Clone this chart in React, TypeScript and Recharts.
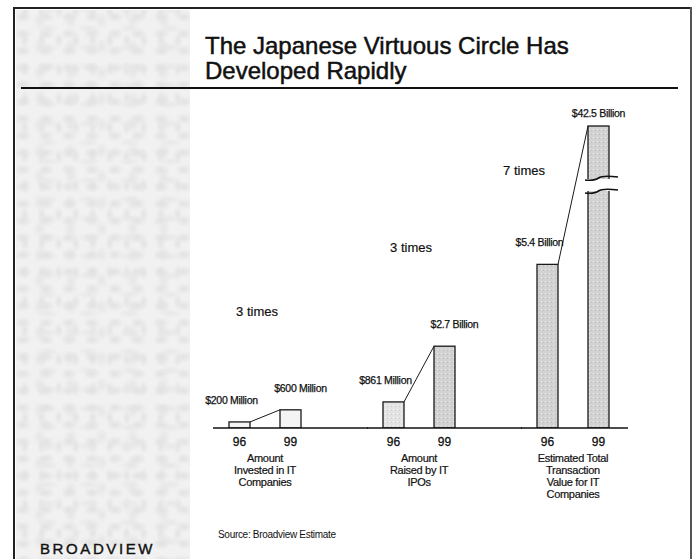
import React from 'react';
import { BarChart, Bar, XAxis, YAxis, LabelList } from 'recharts';

// values in $ billions
const groups = [
  'Amount\nInvested in IT\nCompanies',
  'Amount\nRaised by IT\nIPOs',
  'Estimated Total\nTransaction\nValue for IT\nCompanies',
];
const years = ['96', '99'];
const value96 = [0.2, 0.861, 5.4];
const value99 = [0.6, 2.7, 42.5];
const label96 = ['$200 Million', '$861 Million', '$5.4 Billion'];
const label99 = ['$600 Million', '$2.7 Billion', '$42.5 Billion'];
const growth = ['3 times', '3 times', '7 times'];

const rows = groups.map((g, i) => ({
  group: g,
  v96: value96[i],
  v99: value99[i],
  l96: label96[i],
  l99: label99[i],
  growth: growth[i],
}));

const FONT = '"Liberation Sans", Arial, Helvetica, sans-serif';
const W = 694;
const H = 559;
const PLOT_TOP = 125;
const Y_MAX = 10;
const BAR_SIZE = 21;
const BAR_GAP = 30;
const fills96 = ['#f4f4f4', 'url(#stippleLight)', 'url(#stipple)'];
const fills99 = ['#f4f4f4', 'url(#stipple)', 'url(#stipple)'];

function Bar96Shape(props: any) {
  const { x, y, width, height, index } = props;
  return <rect x={x} y={y} width={width} height={height} fill={fills96[index]} stroke="#1a1a1a" strokeWidth={1.3} />;
}

function Bar99Shape(props: any) {
  const { x, y, width, height, index, payload } = props;
  const base = y + height;
  const ppu = (base - PLOT_TOP) / Y_MAX;
  const over = payload.v99 > Y_MAX;
  const top = over ? PLOT_TOP + 1 : y;
  const x96 = x - BAR_GAP;
  const y96 = base - payload.v96 * ppu;
  const brk = PLOT_TOP + 54;
  const midX = (x96 + x) / 2;
  const midY = (y96 + top) / 2;
  const gx = over ? midX - 49 : midX - 8;
  const gy = over ? midY - 20 : top - 94;
  return (
    <g>
      <rect x={x} y={top} width={width} height={base - top} fill={fills99[index]} stroke="#1a1a1a" strokeWidth={1.3} />
      <line x1={x96} y1={y96} x2={x} y2={top} stroke="#1a1a1a" strokeWidth={1} />
      {over && (
        <g>
          <rect x={x - 1} y={brk} width={width + 2} height={12} fill="#fff" />
          <path d={`M ${x - 3} ${brk + 1} Q ${x + width / 2 - 4} ${brk + 2} ${x + width / 2} ${brk - 1} T ${x + width + 9} ${brk - 2}`} fill="none" stroke="#111" strokeWidth={1.6} />
          <path d={`M ${x - 3} ${brk + 14} Q ${x + width / 2 - 4} ${brk + 15} ${x + width / 2} ${brk + 12} T ${x + width + 9} ${brk + 11}`} fill="none" stroke="#111" strokeWidth={1.6} />
        </g>
      )}
      <text x={gx} y={gy} textAnchor="middle" fontFamily={FONT} fontSize={13} fill="#111" stroke="#111" strokeWidth={0.2}>{payload.growth}</text>
    </g>
  );
}

function valueLabel(dx: number) {
  return (props: any) => {
    const vb = props.viewBox || props;
    const over = vb.y < PLOT_TOP;
    const top = over ? PLOT_TOP : vb.y;
    return (
      <text x={vb.x + vb.width / 2 + (over ? 0 : dx)} y={top - (over ? 8 : 18)} textAnchor="middle" fontFamily={FONT} fontSize={10.5} letterSpacing={-0.3} fill="#111" stroke="#111" strokeWidth={0.25}>
        {props.value}
      </text>
    );
  };
}

function yearLabel(text: string) {
  return (props: any) => {
    const vb = props.viewBox || props;
    return (
      <text x={vb.x + vb.width / 2} y={vb.y + vb.height + 18} textAnchor="middle" fontFamily={FONT} fontSize={12} fill="#111" stroke="#111" strokeWidth={0.3}>
        {text}
      </text>
    );
  };
}

// group caption under each pair, plus the piece of baseline that belongs to it
function GroupTick(props: any) {
  const { x, y, payload, index, visibleTicksCount } = props;
  const lines = String(payload.value).split('\n');
  const last = index === (visibleTicksCount ?? groups.length) - 1;
  return (
    <g>
      <line x1={x - 52} y1={y} x2={last ? x + 55 : x + 103} y2={y} stroke="#111" strokeWidth={1.5} />
      {lines.map((l, i) => (
        <text key={i} x={x} y={y + 34 + i * 12} textAnchor="middle" fontFamily={FONT} fontSize={11} letterSpacing={-0.3} fill="#111" stroke="#111" strokeWidth={0.2}>
          {l}
        </text>
      ))}
    </g>
  );
}

const panelBg = [
  'radial-gradient(ellipse 9px 6px at 30% 40%, #e2e2e2 0, transparent 100%) 0 0/23px 17px',
  'radial-gradient(ellipse 7px 9px at 60% 30%, #e6e6e6 0, transparent 100%) 5px 3px/31px 26px',
  'radial-gradient(ellipse 12px 5px at 50% 50%, #e8e8e8 0, transparent 100%) 11px 9px/41px 19px',
  'radial-gradient(ellipse 5px 8px at 40% 60%, #e3e3e3 0, transparent 100%) 2px 13px/17px 29px',
  '#f1f1f1',
].join(', ');

export default function App() {
  return (
    <div style={{ position: 'absolute', left: 0, top: 0, width: W, height: H, background: '#fff', overflow: 'hidden', fontFamily: FONT }}>
      {/* textured side panel */}
      <div style={{ position: 'absolute', left: 16, top: 10, width: 174, height: 549, background: panelBg }} />
      <div style={{ position: 'absolute', left: 14, top: 7, width: 678, height: 2, background: '#222' }} />
      <div style={{ position: 'absolute', left: 13, top: 7, width: 2, height: 552, background: '#222' }} />
      <div style={{ position: 'absolute', left: 690, top: 7, width: 2, height: 552, background: '#555' }} />
      <div style={{ position: 'absolute', left: 21, top: 87, width: 657, height: 2, background: '#111' }} />
      <div style={{ position: 'absolute', left: 205, top: 33, fontSize: 24, lineHeight: '25px', color: '#111', WebkitTextStroke: '0.5px #111' }}>
        The Japanese Virtuous Circle Has
        <br />
        Developed Rapidly
      </div>
      <div style={{ position: 'absolute', left: 0, top: 0 }}>
        <BarChart width={W} height={H} data={rows} margin={{ top: PLOT_TOP, right: 44, bottom: 31, left: 188 }} barGap={BAR_GAP} barSize={BAR_SIZE}>
          <defs>
            <pattern id="stipple" width="4" height="4" patternUnits="userSpaceOnUse">
              <rect width="4" height="4" fill="#d2d2d2" />
              <rect x="1" y="1" width="1" height="1" fill="#ececec" />
              <rect x="3" y="2" width="1" height="1" fill="#bdbdbd" />
            </pattern>
            <pattern id="stippleLight" width="4" height="4" patternUnits="userSpaceOnUse">
              <rect width="4" height="4" fill="#e3e3e3" />
              <rect x="1" y="1" width="1" height="1" fill="#f6f6f6" />
              <rect x="3" y="2" width="1" height="1" fill="#cfcfcf" />
            </pattern>
          </defs>
          <XAxis dataKey="group" interval={0} height={100} tickLine={false} tickSize={0} tickMargin={0} axisLine={false} tick={<GroupTick />} />
          <YAxis hide type="number" domain={[0, Y_MAX]} allowDataOverflow />
          <Bar dataKey="v96" isAnimationActive={false} shape={<Bar96Shape />}>
            <LabelList dataKey="l96" content={valueLabel(-8)} />
            <LabelList dataKey="v96" content={yearLabel(years[0])} />
          </Bar>
          <Bar dataKey="v99" isAnimationActive={false} shape={<Bar99Shape />}>
            <LabelList dataKey="l99" content={valueLabel(10)} />
            <LabelList dataKey="v99" content={yearLabel(years[1])} />
          </Bar>
        </BarChart>
      </div>
      <div style={{ position: 'absolute', left: 218, top: 529, fontSize: 10, letterSpacing: -0.3, color: '#111' }}>Source: Broadview Estimate</div>
      <div style={{ position: 'absolute', left: 40, top: 540, fontSize: 15, letterSpacing: 2.6, color: '#111', WebkitTextStroke: '0.4px #111' }}>BROADVIEW</div>
    </div>
  );
}
